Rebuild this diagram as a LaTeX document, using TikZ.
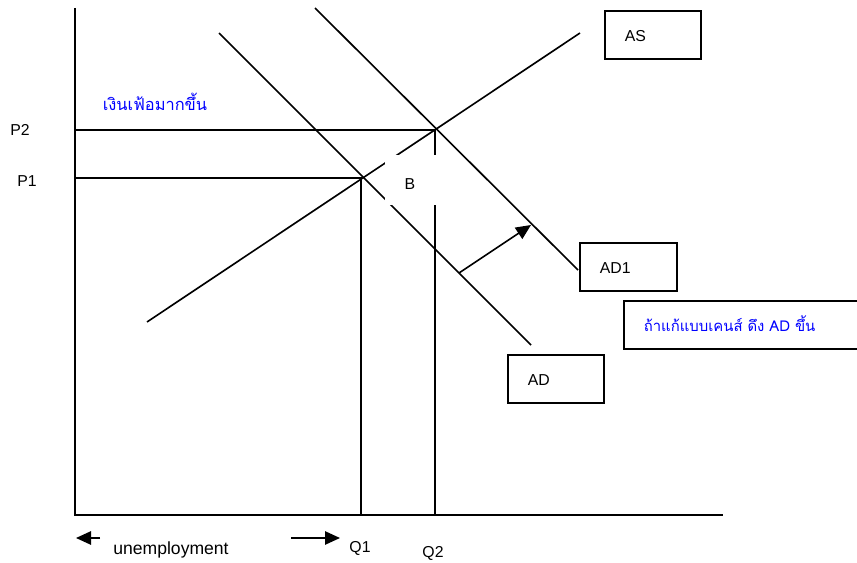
\documentclass[tikz,border=0pt]{standalone}
\usepackage{fontspec}
\setmainfont{Liberation Sans}
\newfontfamily\thaifont[Script=Thai]{Loma}
\usetikzlibrary{arrows.meta}

\tikzset{
  curve/.style={line width=1.4pt},
  tip/.style={-{Triangle[length=0.45cm,width=0.4cm]}},
  labelbox/.style={draw, line width=1.4pt, rectangle, anchor=north west,
    minimum height=1.44cm, inner xsep=0.6cm, text height=1.1em, align=left},
  thaitext/.style={text=blue, font=\thaifont\fontsize{12.7}{14}\selectfont},
}

\begin{document}
\begin{tikzpicture}[x=0.03cm, y=-0.03cm, font=\fontsize{13.5}{15}\selectfont]
    \useasboundingbox (0,0) rectangle (857,563);
    % axes
    \coordinate (o) at (75,515);
    \coordinate (ytop) at (75,8);
    \coordinate (xend) at (723,515);
    \draw[curve] (ytop) -- (o) -- (xend);
    % supply and demand
    \coordinate (as0) at (147,322);
    \coordinate (as1) at (580,33);
    \coordinate (ad0) at (219,33);
    \coordinate (ad1) at (531,345);
    \coordinate (adn0) at (315,8);
    \coordinate (adn1) at (578,270);
    \draw[curve] (as0) -- (as1);
    \draw[curve] (ad0) -- (ad1);
    \draw[curve] (adn0) -- (adn1);
    % equilibria
    \coordinate (e1) at (361,178);
    \coordinate (e2) at (435,130);
    \draw[curve] (e1 -| o) -- (e1) -- (e1 |- o);
    \draw[curve] (e2 -| o) -- (e2) -- (e2 |- o);
    % shift of AD
    \coordinate (sh0) at (459,273);
    \coordinate (sh1) at (531,225);
    \draw[curve, tip] (sh0) -- (sh1);
    % point B hides the lines behind it
    \node[fill=white, minimum width=1.56cm, minimum height=1.5cm] (b) at (411,180) {};
    \node (blabel) at (410,184) {B};
    % axis labels
    \node (p2) at (20,130) {P2};
    \node (p1) at (27,181) {P1};
    \node (q1) at (360,548) {Q1};
    \node (q2) at (433,553) {Q2};
    \node[font=\fontsize{15}{17}\selectfont] (unemp) at (171,550) {unemployment};
    \coordinate (la0) at (100,538);
    \coordinate (la1) at (76,538);
    \coordinate (ra0) at (291,538);
    \coordinate (ra1) at (340,538);
    \draw[curve, tip] (la0) -- (la1);
    \draw[curve, tip] (ra0) -- (ra1);
    \node[thaitext, font=\thaifont\fontsize{14}{16}\selectfont] (infl) at (155,102) {เงินเฟ้อมากขึ้น};
    % boxes
    \node[labelbox, text width=1.68cm] (asbox) at (604,10) {AS};
    \node[labelbox, text width=1.71cm] (ad1box) at (579,242) {AD1};
    \node[labelbox, text width=1.68cm] (adbox) at (507,354) {AD};
    \node[labelbox, text width=5.82cm, thaitext] (keynes) at (623,300) {ถ้าแก้แบบเคนส์ ดึง AD ขึ้น};
\end{tikzpicture}
\end{document}
